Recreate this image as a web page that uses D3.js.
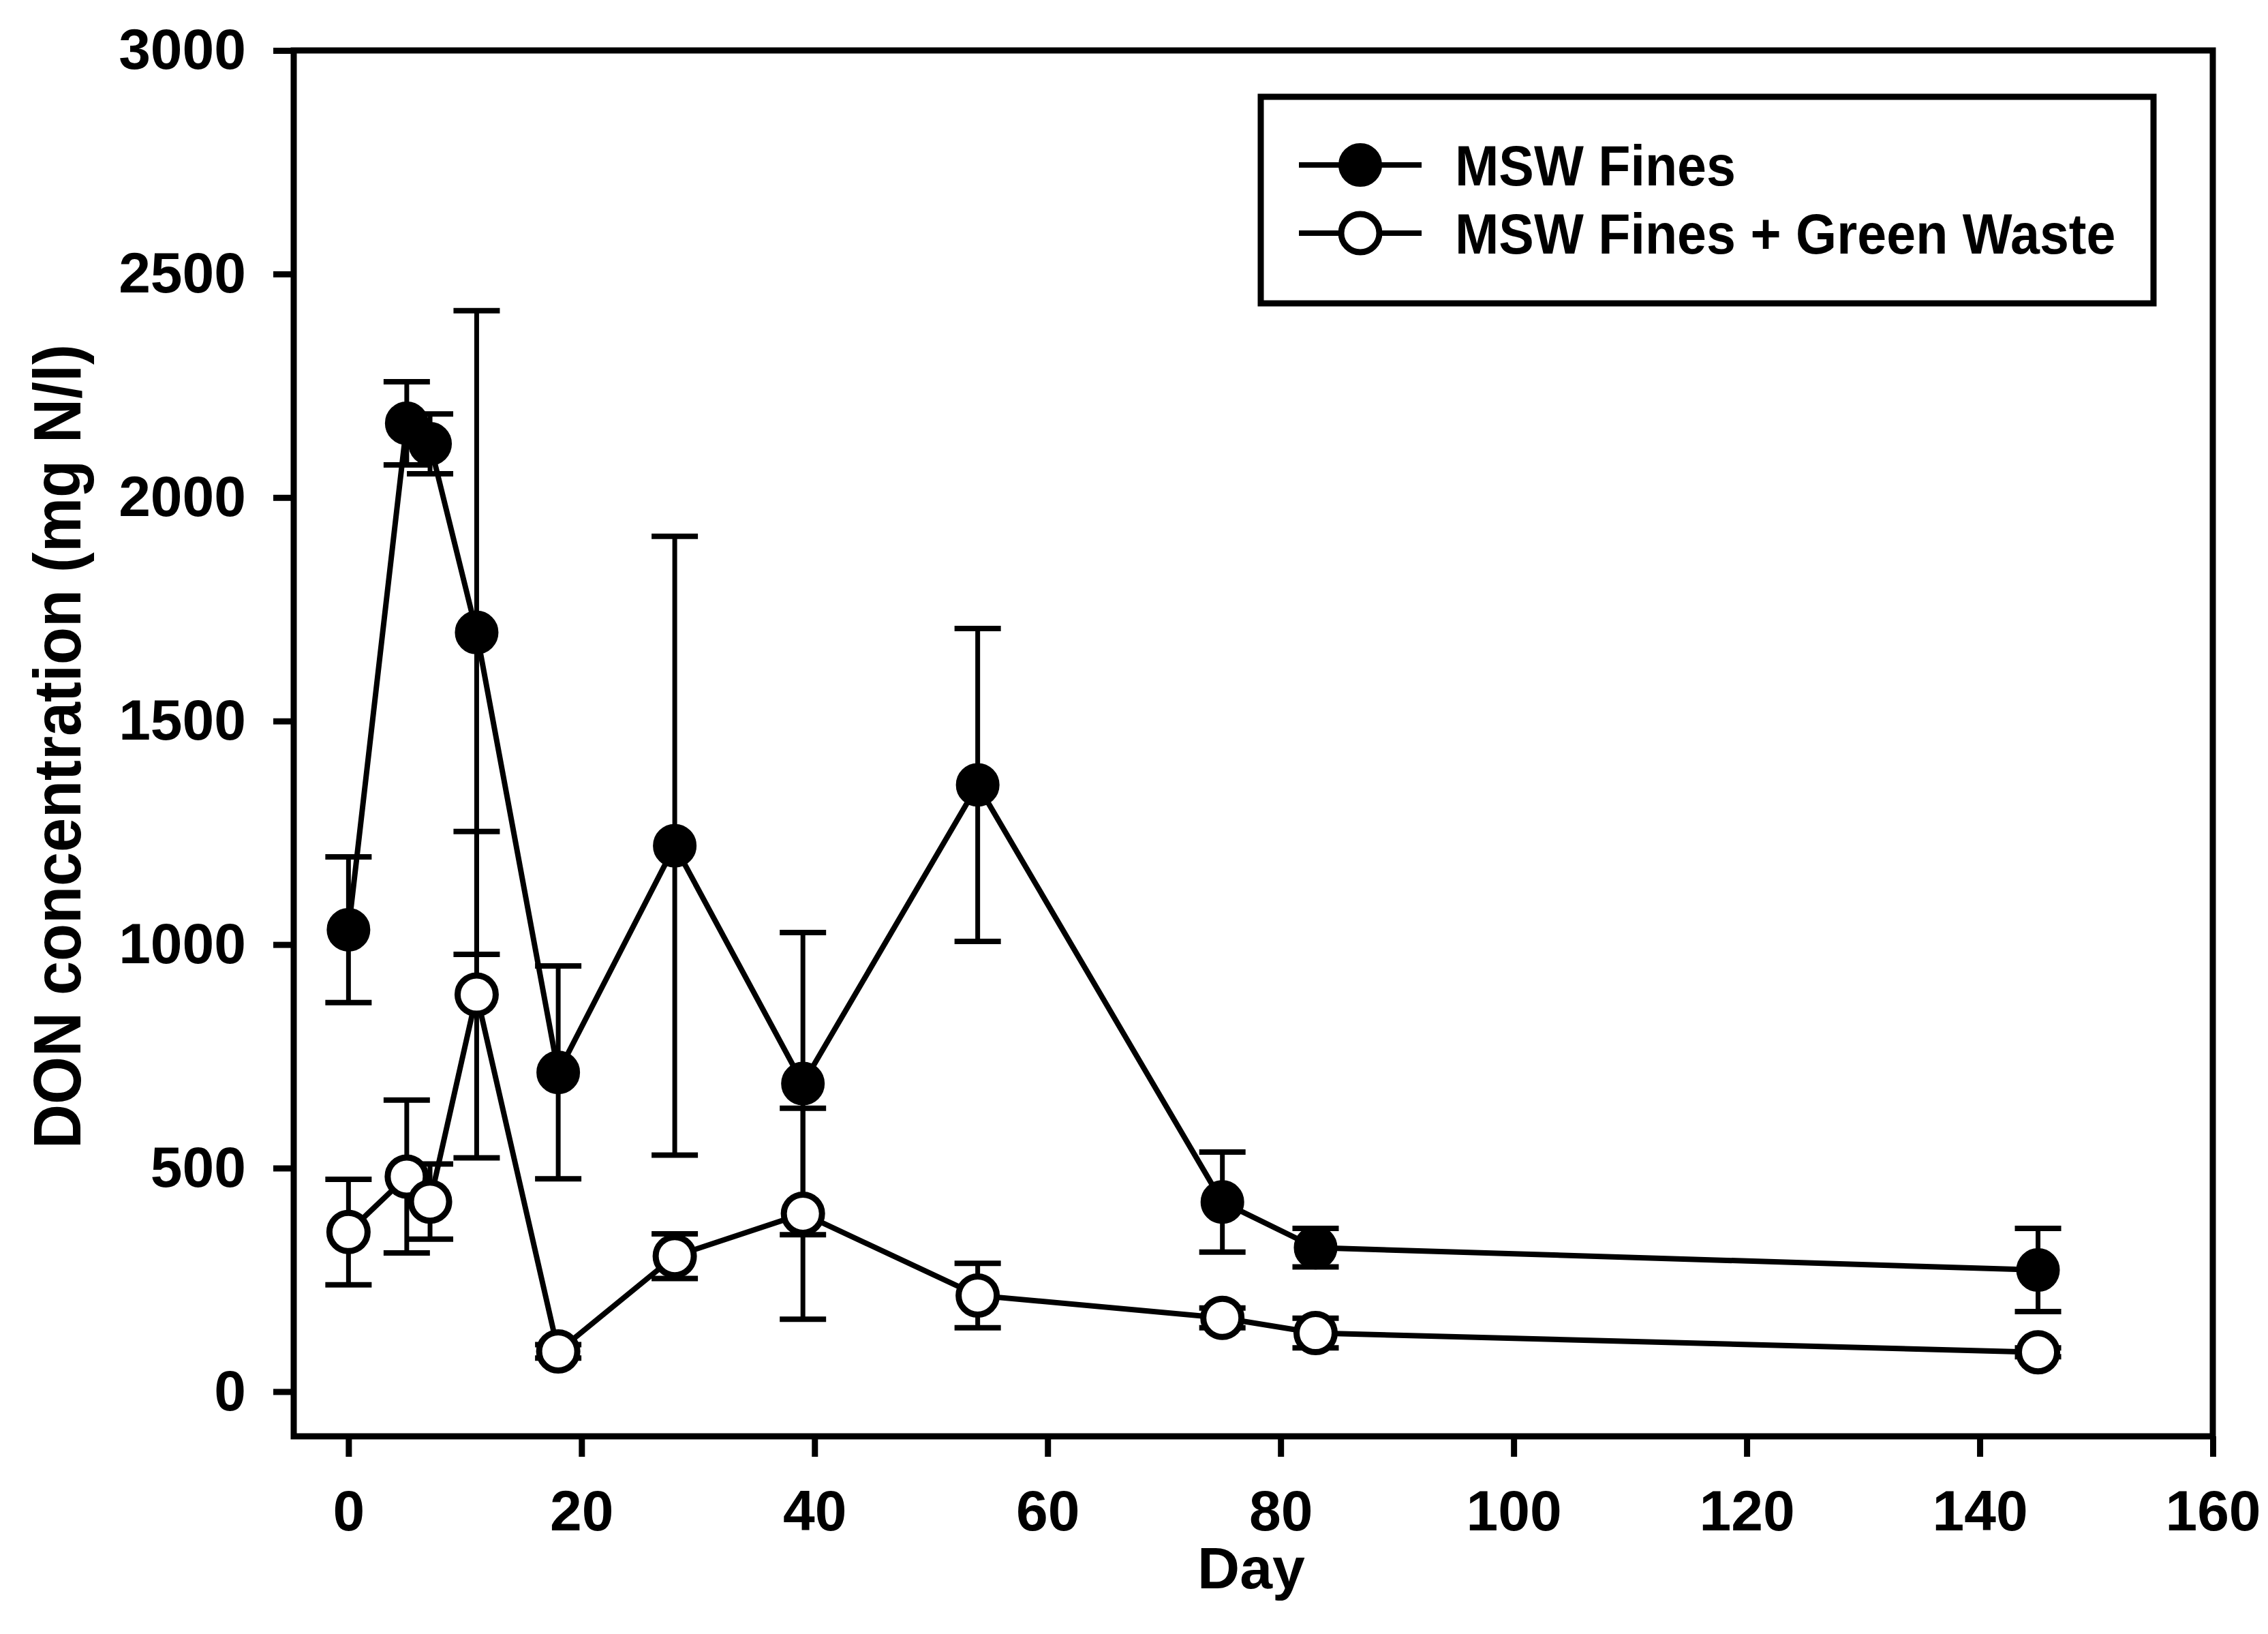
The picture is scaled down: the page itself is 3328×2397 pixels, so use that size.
<!DOCTYPE html>
<html>
<head>
<meta charset="utf-8">
<script src="https://cdn.jsdelivr.net/npm/d3@7"></script>
<style>
  body { margin: 0; background: #fff; }
  text { font-family: 'Liberation Sans', Arial, sans-serif; fill: #000; }
</style>
</head>
<body>
<svg id="chart"></svg>
<script>
// data
var days = [0, 5, 7, 11, 18, 28, 39, 54, 75, 83, 145]
var mswFines = [1033, 2166, 2120, 1698, 714, 1221, 689, 1357, 424, 322, 272]
var mswFinesErr = [163, 93, 67, 720, 238, 692, 338, 350, 112, 43, 93]
var greenWaste = [357, 481, 425, 888, 90, 303, 398, 215, 165, 131, 88]
var greenWasteErr = [118, 171, 84, 365, 15, 50, 236, 72, 22, 33, 10]
var xTicks = [0, 20, 40, 60, 80, 100, 120, 140, 160]
var yTicks = [0, 500, 1000, 1500, 2000, 2500, 3000]
var seriesNames = ['MSW Fines', 'MSW Fines + Green Waste']

var W = 3328, H = 2397
var plot = { left: 431, right: 3247, top: 74, bottom: 2107 }

var svg = d3.select('#chart').attr('width', W).attr('height', H)

var x = d3.scaleLinear().domain([-4.7, 160]).range([plot.left, plot.right])
var y = d3.scaleLinear().domain([-100, 3000]).range([plot.bottom, plot.top])

// axes
var yAxis = svg.append('g')
    .attr('transform', 'translate(' + plot.left + ',0)')
    .call(d3.axisLeft(y).tickValues(yTicks).tickFormat(d3.format('d'))
        .tickSize(30).tickSizeOuter(0).tickPadding(40))
yAxis.select('.domain').remove()
yAxis.selectAll('.tick line').attr('stroke', '#000').attr('stroke-width', 9)
yAxis.selectAll('.tick text')
    .attr('font-size', '84px')
    .attr('font-weight', 'bold')
    .attr('font-family', "'Liberation Sans', Arial, sans-serif")

var xAxis = svg.append('g')
    .attr('transform', 'translate(0,' + plot.bottom + ')')
    .call(d3.axisBottom(x).tickValues(xTicks).tickFormat(d3.format('d'))
        .tickSize(30).tickSizeOuter(0).tickPadding(48))
xAxis.select('.domain').remove()
xAxis.selectAll('.tick line').attr('stroke', '#000').attr('stroke-width', 9)
xAxis.selectAll('.tick text')
    .attr('font-size', '84px')
    .attr('font-weight', 'bold')
    .attr('font-family', "'Liberation Sans', Arial, sans-serif")

// frame
svg.append('rect')
    .attr('x', plot.left)
    .attr('y', plot.top)
    .attr('width', plot.right - plot.left)
    .attr('height', plot.bottom - plot.top)
    .attr('fill', 'none')
    .attr('stroke', '#000')
    .attr('stroke-width', 9)

svg.append('text')
    .text('Day')
    .attr('x', 1836)
    .attr('y', 2330)
    .attr('text-anchor', 'middle')
    .attr('font-size', '86px')
    .attr('font-weight', 'bold')

svg.append('text')
    .text('DON concentration (mg N/l)')
    .attr('transform', 'translate(118,1095) rotate(-90) scale(1,1.1)')
    .attr('text-anchor', 'middle')
    .attr('font-size', '90px')
    .attr('font-weight', 'bold')

// one series: error bars, connecting line, markers
function drawSeries(vals, errs, filled) {
    var g = svg.append('g')
    var pts = days.map(function(d, i) { return { day: d, v: vals[i], e: errs[i] } })

    var eb = g.selectAll('.err').data(pts).enter().append('g')
    eb.append('line')
        .attr('x1', function(d) { return x(d.day) })
        .attr('x2', function(d) { return x(d.day) })
        .attr('y1', function(d) { return y(d.v + d.e) })
        .attr('y2', function(d) { return y(d.v - d.e) })
        .attr('stroke', '#000').attr('stroke-width', 7)
    ;[1, -1].forEach(function(sign) {
        eb.append('line')
            .attr('x1', function(d) { return x(d.day) - 34 })
            .attr('x2', function(d) { return x(d.day) + 34 })
            .attr('y1', function(d) { return y(d.v + sign * d.e) })
            .attr('y2', function(d) { return y(d.v + sign * d.e) })
            .attr('stroke', '#000').attr('stroke-width', 8)
    })

    g.append('path')
        .datum(pts)
        .attr('d', d3.line().x(function(d) { return x(d.day) }).y(function(d) { return y(d.v) }))
        .attr('fill', 'none')
        .attr('stroke', '#000')
        .attr('stroke-width', 8)

    g.selectAll('.pt').data(pts).enter().append('circle')
        .attr('cx', function(d) { return x(d.day) })
        .attr('cy', function(d) { return y(d.v) })
        .attr('r', filled ? 31 : 28)
        .attr('fill', filled ? '#000' : '#fff')
        .attr('stroke', '#000')
        .attr('stroke-width', filled ? 2 : 9)
}

drawSeries(mswFines, mswFinesErr, true)
drawSeries(greenWaste, greenWasteErr, false)

// legend
var legend = svg.append('g')
legend.append('rect')
    .attr('x', 1850).attr('y', 142)
    .attr('width', 1310).attr('height', 303)
    .attr('fill', '#fff')
    .attr('stroke', '#000')
    .attr('stroke-width', 9)

seriesNames.forEach(function(name, i) {
    var cy = 242 + i * 100
    legend.append('line')
        .attr('x1', 1906).attr('x2', 2086)
        .attr('y1', cy).attr('y2', cy)
        .attr('stroke', '#000').attr('stroke-width', 8)
    legend.append('circle')
        .attr('cx', 1996).attr('cy', cy)
        .attr('r', i === 0 ? 31 : 28)
        .attr('fill', i === 0 ? '#000' : '#fff')
        .attr('stroke', '#000')
        .attr('stroke-width', i === 0 ? 2 : 9)
    legend.append('text')
        .text(name)
        .attr('transform', 'translate(2135,' + (cy + 30) + ') scale(0.92,1)')
        .attr('font-size', '84px')
        .attr('font-weight', 'bold')
})
</script>
</body>
</html>
